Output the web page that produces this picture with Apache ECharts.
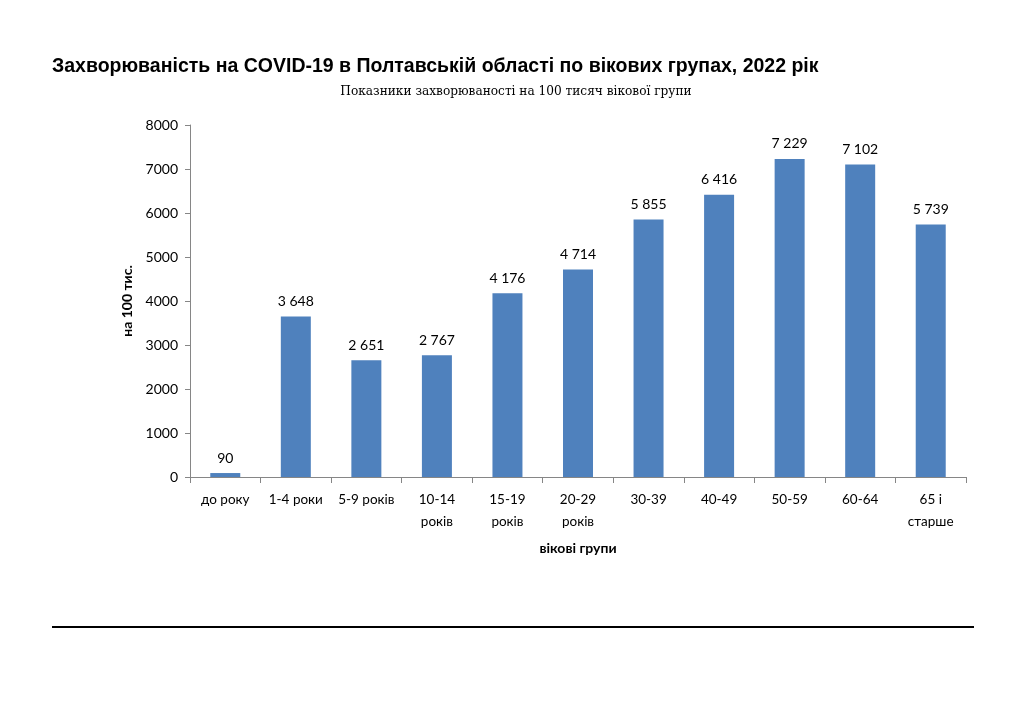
<!DOCTYPE html>
<html>
<head>
<meta charset="utf-8">
<script src="https://cdn.jsdelivr.net/npm/echarts@6/dist/echarts.min.js"></script>
<style>
  html, body { margin: 0; padding: 0; background: #fff; }
  #chart { width: 1024px; height: 724px; }
</style>
</head>
<body>
<div id="chart"></div>
<script>
// вікові групи
var categories = ['до року', '1-4 роки', '5-9 років', '10-14\nроків', '15-19\nроків',
  '20-29\nроків', '30-39', '40-49', '50-59', '60-64', '65 і\nстарше'];
// показники на 100 тис.
var values = [90, 3648, 2651, 2767, 4176, 4714, 5855, 6416, 7229, 7102, 5739];
var yTicks = [0, 1000, 2000, 3000, 4000, 5000, 6000, 7000, 8000];

var chart = echarts.init(document.getElementById('chart'));

function fmt(v) {
  return String(v).replace(/\B(?=(\d{3})+(?!\d))/g, ' ');
}

var option = {
  backgroundColor: '#fff',
  animation: false,
  title: [{
    text: 'Захворюваність на COVID-19 в Полтавській області по вікових групах, 2022 рік',
    left: 47,
    top: 52,
    textStyle: { fontFamily: 'Liberation Sans', fontWeight: 'bold', fontSize: 19.5, color: '#000' }
  }, {
    text: 'Показники захворюваності на 100 тисяч вікової групи',
    left: 511,
    top: 79,
    textAlign: 'center',
    textStyle: { fontFamily: 'DejaVu Serif Condensed', fontWeight: 'normal', fontSize: 13.5, color: '#000' }
  }],
  grid: { left: 190, right: 58, top: 125, bottom: 247 },
  xAxis: {
    type: 'category',
    data: categories,
    name: 'вікові групи',
    nameLocation: 'middle',
    nameGap: 64,
    nameTextStyle: { fontFamily: 'Lato', fontWeight: 'bold', fontSize: 14, color: '#000' },
    axisLine: { lineStyle: { color: '#868686', width: 1 } },
    axisTick: { show: true, alignWithLabel: false, length: 6, lineStyle: { color: '#868686' } },
    axisLabel: { interval: 0, fontFamily: 'Lato', fontSize: 13.5, color: '#000', margin: 12, lineHeight: 22 }
  },
  yAxis: {
    type: 'value',
    min: 0,
    max: yTicks[yTicks.length - 1],
    interval: 1000,
    name: 'на 100 тис.',
    nameLocation: 'middle',
    nameGap: 53,
    nameTextStyle: { fontFamily: 'Lato', fontWeight: 'bold', fontSize: 14, color: '#000' },
    axisLine: { show: true, lineStyle: { color: '#868686', width: 1 } },
    axisTick: { show: true, length: 5, lineStyle: { color: '#868686' } },
    splitLine: { show: false },
    axisLabel: {
      fontFamily: 'Lato', fontSize: 14, color: '#000', margin: 12,
      formatter: function (v) { return String(v); }
    }
  },
  series: [{
    type: 'bar',
    data: values,
    barWidth: 30,
    itemStyle: { color: '#4F81BD' },
    label: {
      show: true,
      position: 'top',
      distance: 8,
      fontFamily: 'Lato',
      fontSize: 14,
      color: '#000',
      formatter: function (p) { return fmt(p.value); }
    }
  }],
  graphic: [{
    type: 'line',
    shape: { x1: 52, y1: 627, x2: 974, y2: 627 },
    style: { stroke: '#000', lineWidth: 2 }
  }]
};

chart.setOption(option);
</script>
</body>
</html>
